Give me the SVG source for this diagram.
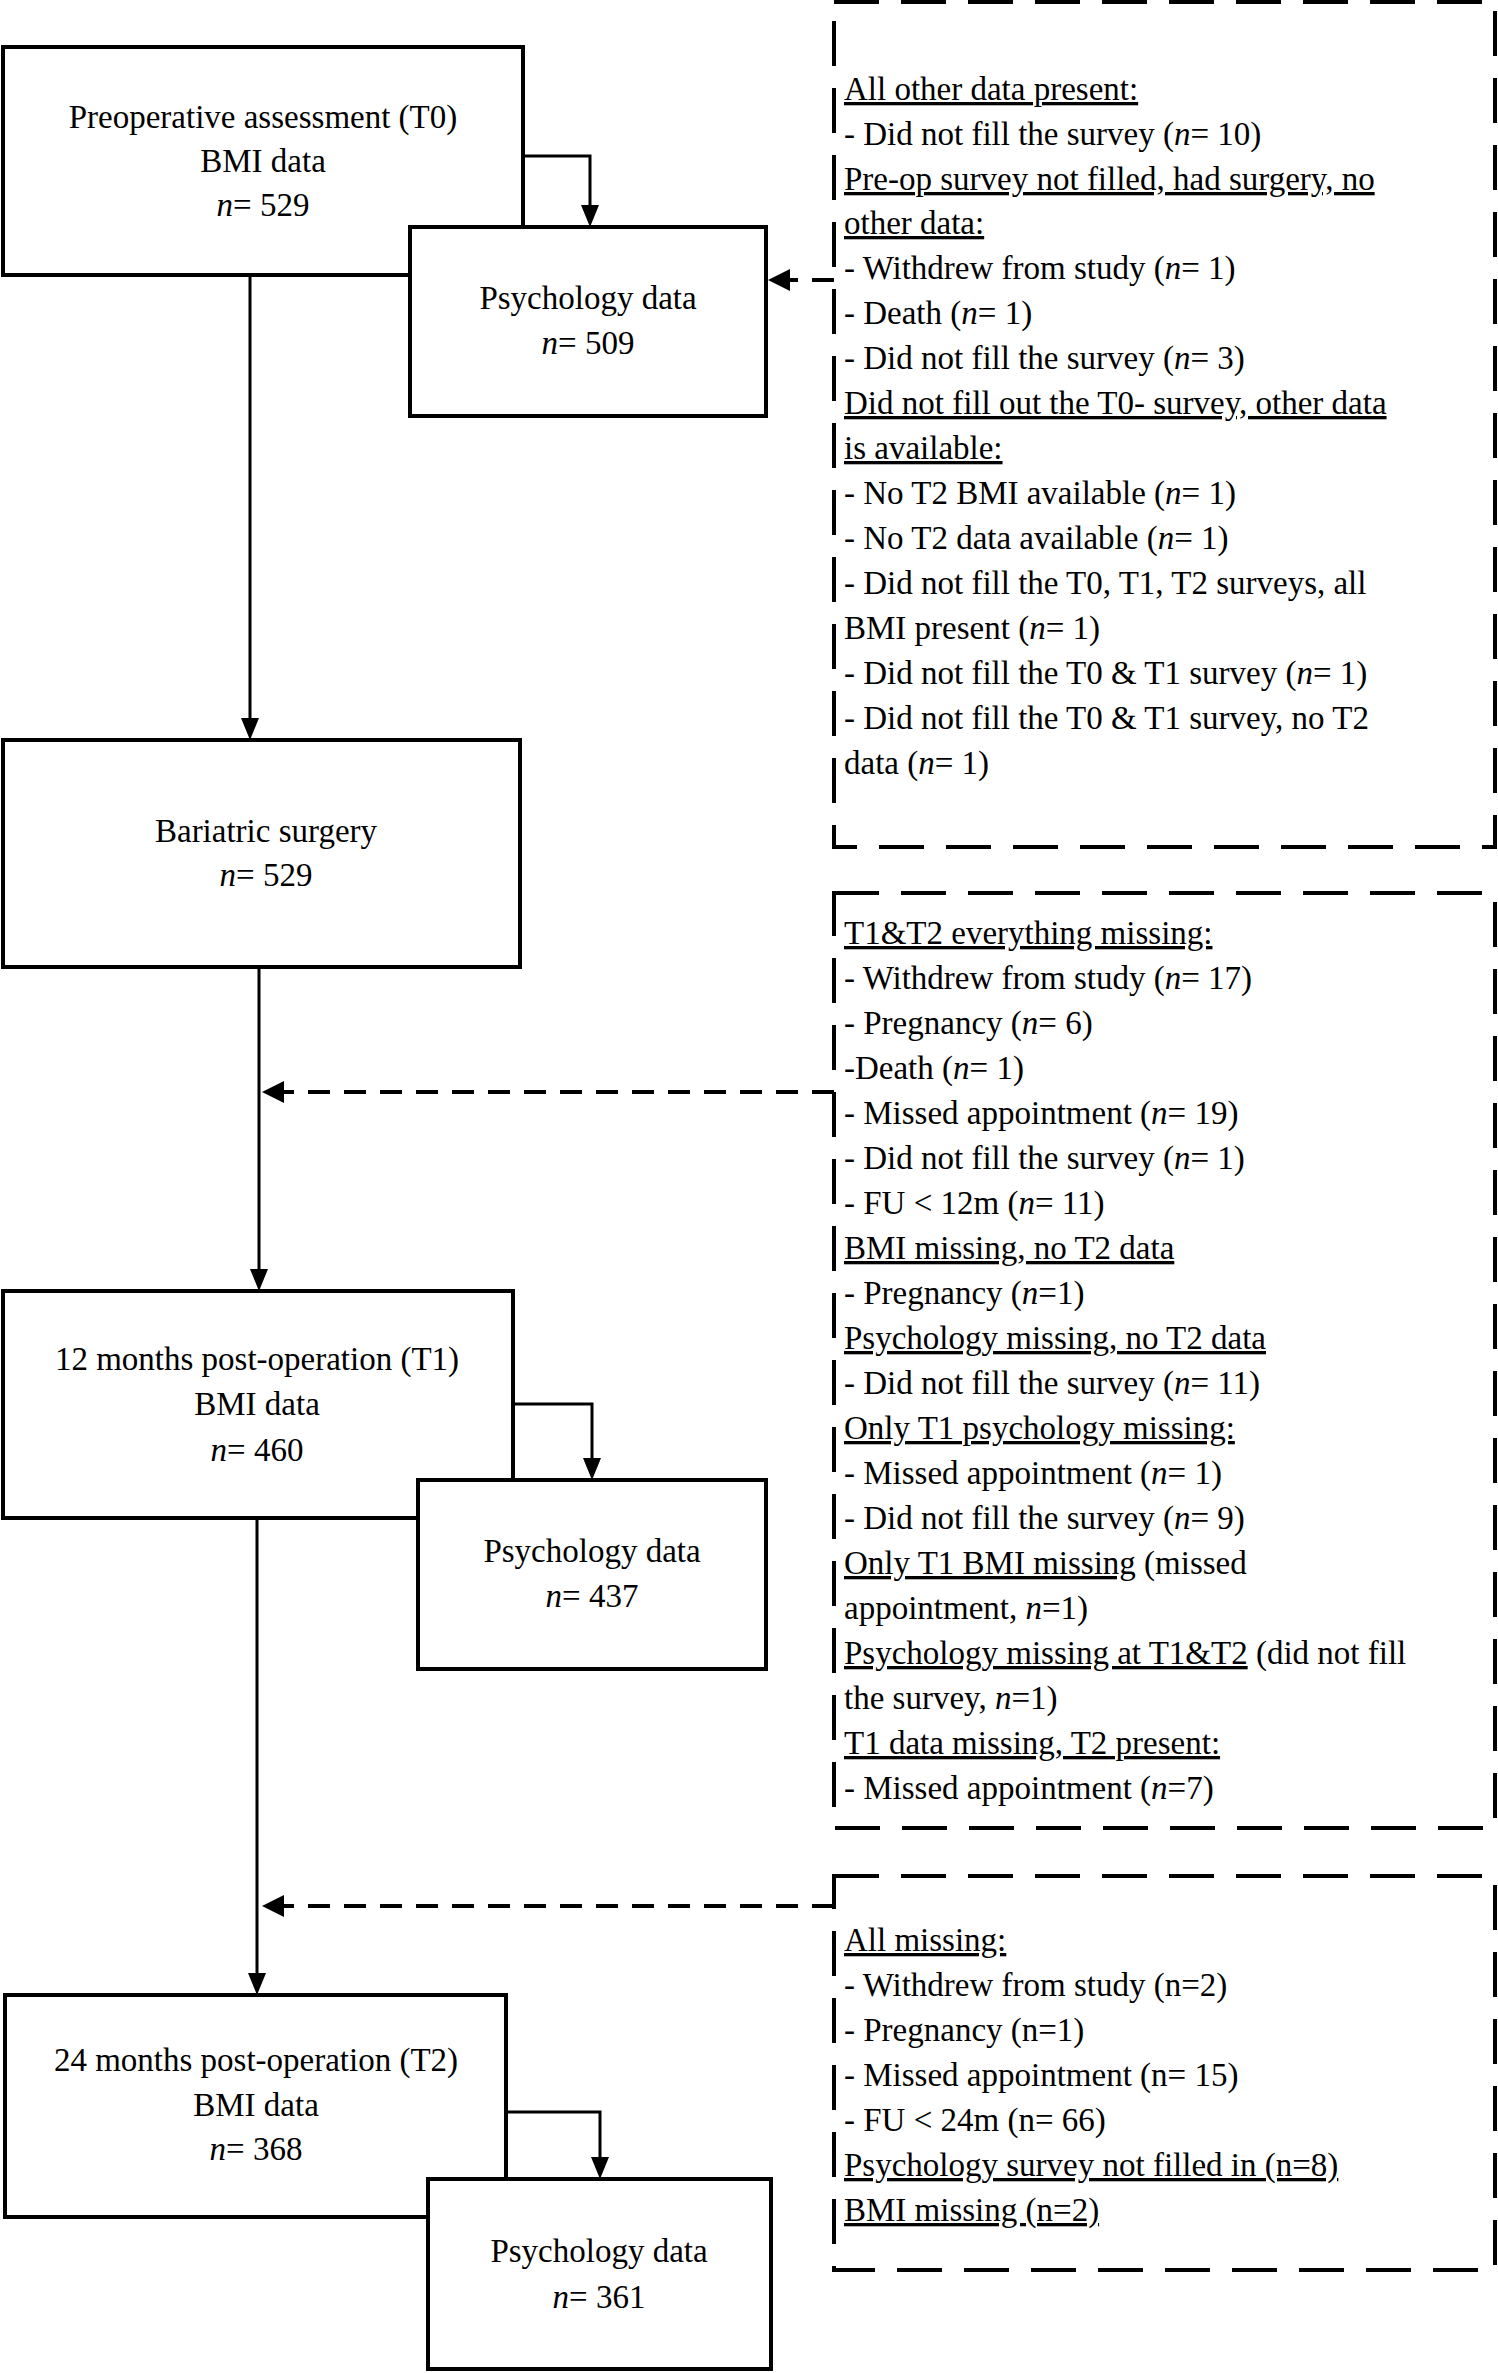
<svg xmlns="http://www.w3.org/2000/svg" width="1498" height="2373" viewBox="0 0 1498 2373">
<style>
text{font-family:"Liberation Serif","Times New Roman",serif;font-size:33px;fill:#000}
.c{text-anchor:middle}
.u{text-decoration:underline}
.box{fill:#fff;stroke:#000;stroke-width:4}
.dbox{fill:none;stroke:#000;stroke-width:4;stroke-dasharray:45 22}
.ln{fill:none;stroke:#000;stroke-width:3}
.dl{fill:none;stroke:#000;stroke-width:4;stroke-dasharray:22 14}
</style>
<defs>
<marker id="ah" viewBox="0 0 10 10" refX="10" refY="5" markerWidth="7" markerHeight="7" markerUnits="userSpaceOnUse" orient="auto" style="overflow:visible"><path d="M0,0 L10,5 L0,10 z" transform="scale(2)" fill="#000"/></marker>
</defs>
<g id="connectors">
<path class="ln" d="M523,156 H590 V207"/>
<path d="M590,227 l-9,-22 h18 z"/>
<path class="ln" d="M250,275 V718"/>
<path d="M250,740 l-9,-22 h18 z"/>
<path class="dl" d="M834,280 H790"/>
<path d="M768,280 l22,-11 v22 z"/>
<path class="ln" d="M259,967 V1269"/>
<path d="M259,1291 l-9,-22 h18 z"/>
<path class="dl" d="M834,1092 H284"/>
<path d="M262,1092 l22,-11 v22 z"/>
<path class="ln" d="M513,1404 H592 V1458"/>
<path d="M592,1480 l-9,-22 h18 z"/>
<path class="ln" d="M257,1518 V1973"/>
<path d="M257,1995 l-9,-22 h18 z"/>
<path class="dl" d="M834,1906 H284"/>
<path d="M262,1906 l22,-11 v22 z"/>
<path class="ln" d="M506,2112 H600 V2157"/>
<path d="M600,2179 l-9,-22 h18 z"/>
</g>
<g id="t0"><rect class="box" x="3" y="47" width="520" height="228"/>
<text class="c" x="263" y="128">Preoperative assessment (T0)</text>
<text class="c" x="263" y="172">BMI data</text>
<text class="c" x="263" y="216"><tspan font-style="italic">n</tspan>= 529</text></g>
<g id="psych0"><rect class="box" x="410" y="227" width="356" height="189"/>
<text class="c" x="588" y="309">Psychology data</text>
<text class="c" x="588" y="354"><tspan font-style="italic">n</tspan>= 509</text></g>
<g id="surgery"><rect class="box" x="3" y="740" width="517" height="227"/>
<text class="c" x="266" y="842">Bariatric surgery</text>
<text class="c" x="266" y="886"><tspan font-style="italic">n</tspan>= 529</text></g>
<g id="t1"><rect class="box" x="3" y="1291" width="510" height="227"/>
<text class="c" x="257" y="1370">12 months post-operation (T1)</text>
<text class="c" x="257" y="1415">BMI data</text>
<text class="c" x="257" y="1461"><tspan font-style="italic">n</tspan>= 460</text></g>
<g id="psych1"><rect class="box" x="418" y="1480" width="348" height="189"/>
<text class="c" x="592" y="1562">Psychology data</text>
<text class="c" x="592" y="1607"><tspan font-style="italic">n</tspan>= 437</text></g>
<g id="t2"><rect class="box" x="5" y="1995" width="501" height="222"/>
<text class="c" x="256" y="2071">24 months post-operation (T2)</text>
<text class="c" x="256" y="2116">BMI data</text>
<text class="c" x="256" y="2160"><tspan font-style="italic">n</tspan>= 368</text></g>
<g id="psych2"><rect class="box" x="428" y="2179" width="343" height="190"/>
<text class="c" x="599" y="2262">Psychology data</text>
<text class="c" x="599" y="2308"><tspan font-style="italic">n</tspan>= 361</text></g>
<g id="note0"><rect class="dbox" x="834" y="2" width="661" height="845"/>
<text x="844" y="100"> <tspan class="u">All other data present:</tspan></text>
<text x="844" y="145">- Did not fill the survey (<tspan font-style="italic">n</tspan>= 10)</text>
<text x="844" y="190" class="u">Pre-op survey not filled, had surgery, no</text>
<text x="844" y="234" class="u">other data:</text>
<text x="844" y="279">- Withdrew from study (<tspan font-style="italic">n</tspan>= 1)</text>
<text x="844" y="324">- Death (<tspan font-style="italic">n</tspan>= 1)</text>
<text x="844" y="369">- Did not fill the survey (<tspan font-style="italic">n</tspan>= 3)</text>
<text x="844" y="414" class="u">Did not fill out the T0- survey, other data</text>
<text x="844" y="459" class="u">is available:</text>
<text x="844" y="504">- No T2 BMI available  (<tspan font-style="italic">n</tspan>= 1)</text>
<text x="844" y="549">- No T2 data available (<tspan font-style="italic">n</tspan>= 1)</text>
<text x="844" y="594">- Did not fill the T0, T1, T2 surveys, all</text>
<text x="844" y="639">BMI present (<tspan font-style="italic">n</tspan>= 1)</text>
<text x="844" y="684">- Did not fill the T0 &amp; T1 survey (<tspan font-style="italic">n</tspan>= 1)</text>
<text x="844" y="729">- Did not fill the T0 &amp; T1 survey, no T2</text>
<text x="844" y="774">data (<tspan font-style="italic">n</tspan>= 1)</text></g>
<g id="note1"><rect class="dbox" x="834" y="893" width="661" height="935"/>
<text x="844" y="944" class="u">T1&amp;T2 everything missing:</text>
<text x="844" y="989">- Withdrew from study (<tspan font-style="italic">n</tspan>= 17)</text>
<text x="844" y="1034">- Pregnancy (<tspan font-style="italic">n</tspan>= 6)</text>
<text x="844" y="1079">-Death (<tspan font-style="italic">n</tspan>= 1)</text>
<text x="844" y="1124">- Missed appointment (<tspan font-style="italic">n</tspan>= 19)</text>
<text x="844" y="1169">- Did not fill the survey (<tspan font-style="italic">n</tspan>= 1)</text>
<text x="844" y="1214">- FU &lt; 12m (<tspan font-style="italic">n</tspan>= 11)</text>
<text x="844" y="1259" class="u">BMI missing, no T2 data </text>
<text x="844" y="1304">- Pregnancy (<tspan font-style="italic">n</tspan>=1)</text>
<text x="844" y="1349" class="u">Psychology missing, no T2 data</text>
<text x="844" y="1394">- Did not fill the survey (<tspan font-style="italic">n</tspan>= 11)</text>
<text x="844" y="1439" class="u">Only T1 psychology missing:</text>
<text x="844" y="1484">- Missed appointment (<tspan font-style="italic">n</tspan>= 1)</text>
<text x="844" y="1529">- Did not fill the survey (<tspan font-style="italic">n</tspan>= 9)</text>
<text x="844" y="1574"><tspan class="u">Only T1 BMI missing</tspan> (missed</text>
<text x="844" y="1619">appointment, <tspan font-style="italic">n</tspan>=1)</text>
<text x="844" y="1664"><tspan class="u">Psychology missing at T1&amp;T2</tspan> (did not fill</text>
<text x="844" y="1709">the survey, <tspan font-style="italic">n</tspan>=1)</text>
<text x="844" y="1754" class="u">T1 data missing, T2 present:</text>
<text x="844" y="1799">- Missed appointment (<tspan font-style="italic">n</tspan>=7)</text></g>
<g id="note2"><rect class="dbox" x="834" y="1876" width="661" height="394"/>
<text x="844" y="1951" class="u">All missing:</text>
<text x="844" y="1996">- Withdrew from study (n=2)</text>
<text x="844" y="2041">- Pregnancy (n=1)</text>
<text x="844" y="2086">- Missed appointment (n= 15)</text>
<text x="844" y="2131">- FU &lt; 24m (n= 66)</text>
<text x="844" y="2176" class="u">Psychology survey not filled in (n=8)</text>
<text x="844" y="2221" class="u">BMI missing (n=2)</text></g>
</svg>
